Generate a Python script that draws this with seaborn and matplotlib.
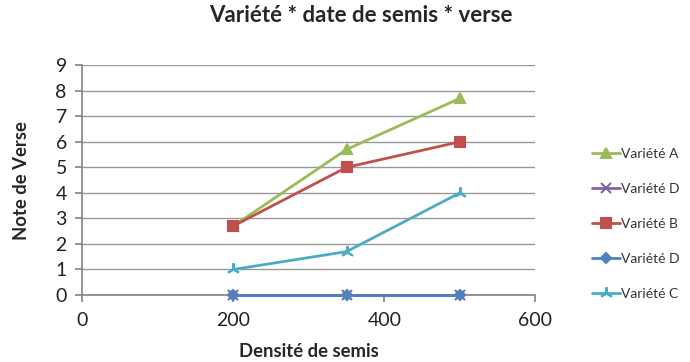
import matplotlib
matplotlib.use("Agg")
import matplotlib.pyplot as plt
import seaborn as sns

densite = [200, 350, 500]
series_names = ["Variété A", "Variété D", "Variété B", "Variété D", "Variété C"]
variete_a = [2.7, 5.7, 7.7]
variete_d1 = [0, 0, 0]
variete_b = [2.7, 5.0, 6.0]
variete_d2 = [0, 0, 0]
variete_c = [1.0, 1.7, 4.0]

sns.set_theme(style="white")
plt.rcParams["font.family"] = ["Lato", "DejaVu Sans"]

fig = plt.figure(figsize=(6.9, 3.62), dpi=100)
ax = fig.add_axes([0.119, 0.185, 0.657, 0.635])

styles = [
    (variete_a, "#9BBB59", "^", 7),
    (variete_d1, "#8064A2", "x", 7),
    (variete_b, "#C0504D", "s", 7),
    (variete_d2, "#4F81BD", "D", 5),
    (variete_c, "#4BACC6", (3, 2, 0), 9),
]
for name, (vals, color, marker, ms) in zip(series_names, styles):
    sns.lineplot(x=densite, y=vals, ax=ax, color=color, marker=marker,
                 markersize=ms, linewidth=2, label=name, clip_on=False,
                 zorder=3, markeredgecolor=color, markeredgewidth=1.5)

ax.set_xlim(0, 600)
ax.set_ylim(0, 9)
ax.set_xticks([0, 200, 400, 600])
ax.set_yticks(range(10))
ax.yaxis.grid(True, color="#999999", linewidth=1)
ax.xaxis.grid(False)
ax.set_axisbelow(True)
for s in ["top", "right"]:
    ax.spines[s].set_visible(False)
ax.spines["left"].set_color("#888888")
ax.spines["bottom"].set_color("#888888")
ax.tick_params(axis="both", which="major", length=5, color="#888888",
               labelsize=14, labelcolor="#222222", direction="out",
               left=True, bottom=True)
ax.tick_params(axis="x", pad=7)
ax.tick_params(axis="y", pad=6)

ax.set_xlabel("Densité de semis", fontsize=13.3, fontweight="bold", labelpad=10)
ax.set_ylabel("Note de Verse", fontsize=13.3, fontweight="bold", labelpad=18)
fig.suptitle("Variété * date de semis * verse", x=0.523, y=0.985,
             fontsize=16, fontweight="bold")

leg = ax.legend(loc="center left", bbox_to_anchor=(0.84, 0.381),
                bbox_transform=fig.transFigure, frameon=False, fontsize=10,
                labelspacing=1.65, handlelength=2.0, handletextpad=0.1)
for t in leg.get_texts():
    t.set_color("#333333")

fig.savefig("out.png", dpi=100)
